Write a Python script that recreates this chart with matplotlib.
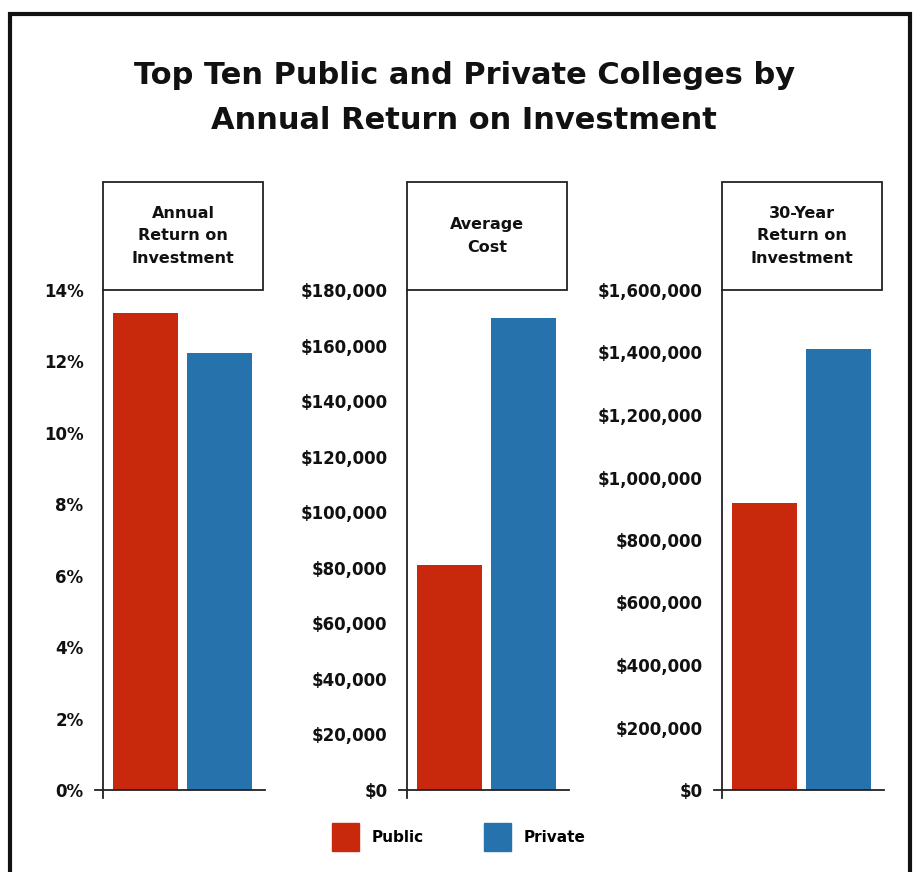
import matplotlib
matplotlib.use("Agg")
import matplotlib.pyplot as plt
from matplotlib.patches import Rectangle, Patch
from matplotlib.ticker import FuncFormatter

plt.rcParams['font.family'] = ['Liberation Sans Narrow', 'DejaVu Sans Condensed', 'DejaVu Sans']
plt.rcParams['font.weight'] = 'bold'

# datos
grupos = ['Public', 'Private']
colores = ['#C8290C', '#2672AD']

titulos = ['Annual\nReturn on\nInvestment', 'Average\nCost', '30-Year\nReturn on\nInvestment']
anual = [13.35, 12.25]            # %
costo = [81000, 170000]           # $
retorno30 = [918000, 1412000]     # $
valores = [anual, costo, retorno30]

ymax = [14, 180000, 1600000]
paso = [2, 20000, 200000]

def fmt_pct(v, pos):
    return '%d%%' % v

def fmt_dolar(v, pos):
    return '${:,.0f}'.format(v)

formatos = [fmt_pct, fmt_dolar, fmt_dolar]

fig = plt.figure(figsize=(9.23, 8.72), dpi=100)

# marco exterior
fig.patches.append(Rectangle((10/923, -0.01), 900/923, 1.01 - 14/872, transform=fig.transFigure,
                             fill=False, edgecolor='#111111', linewidth=3))

fig.text(0.503, 1 - 75/872, 'Top Ten Public and Private Colleges by', ha='center', va='center',
         fontsize=22, fontweight='bold', color='#111111')
fig.text(0.503, 1 - 120/872, 'Annual Return on Investment', ha='center', va='center',
         fontsize=22, fontweight='bold', color='#111111')

izq = [103, 407, 722]
for i in range(3):
    ax = fig.add_axes([izq[i]/923, 1 - 790/872, 160/923, 500/872])
    ax.bar([0, 1], valores[i], width=0.878, color=colores)
    ax.set_xlim(-0.575, 1.59)
    ax.set_ylim(0, ymax[i])
    ax.set_yticks([paso[i]*k for k in range(int(ymax[i]/paso[i]) + 1)])
    ax.yaxis.set_major_formatter(FuncFormatter(formatos[i]))
    ax.set_xticks([])
    ax.tick_params(axis='y', length=0, pad=14, labelsize=12, colors='#111111')
    for s in ['top', 'right', 'bottom', 'left']:
        ax.spines[s].set_visible(False)
    # ejes en cruz
    ax.plot([0, 0], [-0.016, 1.0], transform=ax.transAxes, color='#222222', lw=1.3, clip_on=False)
    ax.plot([-0.05, 1.01], [0, 0], transform=ax.transAxes, color='#222222', lw=1.3, clip_on=False)
    # caja del titulo
    ax.add_patch(Rectangle((0, 1.0), 1.0, 0.216, transform=ax.transAxes, fill=False,
                           edgecolor='#222222', lw=1.3, clip_on=False))
    ax.text(0.5, 1.108, titulos[i], transform=ax.transAxes, ha='center', va='center',
            fontsize=11.5, linespacing=1.6, color='#111111')

handles = [Patch(color=c) for c in colores]
fig.legend(handles, grupos, loc='center', bbox_to_anchor=(0.497, 1 - 837/872), ncol=2,
           frameon=False, handlelength=1.75, handleheight=2.5, columnspacing=4.0,
           handletextpad=0.8, fontsize=11)

fig.savefig('out.png', dpi=100)
